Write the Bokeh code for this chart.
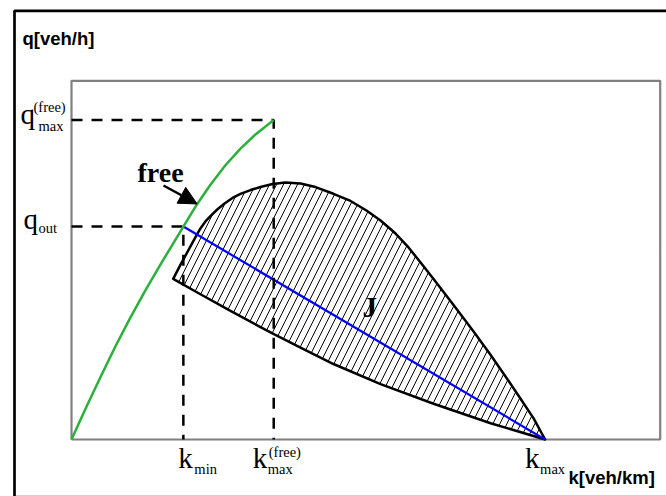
from bokeh.plotting import figure
from bokeh.models import Range1d, Label, Arrow, NormalHead
from bokeh.embed import file_html
from bokeh.resources import INLINE

# ---- fundamental-diagram values (k in veh/km, q in veh/h) ----
K_MIN = 38.0
K_MAX_FREE = 68.7
K_MAX = 160.9
Q_OUT = 1425.0
Q_MAX_FREE = 2138.0

# free-flow branch
FREE_K = [0, 4.8, 9.9, 14.9, 20.0, 25.1, 30.2, 33.6, 38.0, 42.7, 47.2, 52.3, 57.4, 62.5, 68.7]
FREE_Q = [0, 207, 420, 622, 815, 998, 1170, 1281, 1425, 1576, 1705, 1835, 1946, 2041, 2138]

# synchronized-flow region J: upper boundary (left to right) ...
J_UPPER_K = [34.55, 37.0, 39.4, 41.8, 43.8, 45.5, 47.2, 49.5, 52.0, 54.7, 57.4, 60.8,
             64.2, 68.3, 72.7, 77.8, 82.9, 89.0, 94.8, 100.2, 105.0, 110.1, 114.5,
             118.6, 123.0, 129.8, 136.6, 142.4, 147.8, 152.5, 157.0, 160.9]
J_UPPER_Q = [1075, 1168, 1255, 1342, 1412, 1459, 1495, 1539, 1579, 1616, 1643, 1669,
             1689, 1710, 1720, 1713, 1689, 1644, 1596, 1532, 1465, 1378, 1285,
             1184, 1074, 900, 723, 565, 412, 274, 141, 0]
# ... and lower boundary (right to left)
J_LOWER_K = [160.9, 142.4, 123.0, 105.0, 89.0, 77.8, 68.6, 64.2, 54.0, 43.8, 34.55]
J_LOWER_Q = [0, 109, 239, 370, 505, 614, 706, 752, 861, 972, 1075]

# axis box extent
K_AXIS_END = 200.0
Q_AXIS_END = 2400.0

# ---- canvas geometry ----
W, H = 666, 496
X0_PX, Y0_PX = 71.0, 439.0          # pixel position of the origin
PX_PER_K = 588.7 / K_AXIS_END
PX_PER_Q = (Y0_PX - 80.3) / Q_AXIS_END


def kx(px):
    return (px - X0_PX) / PX_PER_K


def qy(py):
    return (Y0_PX - py) / PX_PER_Q


p = figure(width=W, height=H, output_backend="svg", toolbar_location=None,
           x_range=Range1d(kx(0), kx(W)), y_range=Range1d(qy(H), qy(0)),
           x_axis_type=None, y_axis_type=None, min_border=0,
           background_fill_color="white", border_fill_color="white")
p.grid.visible = False
p.outline_line_color = None

SERIF = "Liberation Serif"
SANS = "Liberation Sans"

# outer frame of the figure
p.line([kx(13), kx(W)], [qy(495.5), qy(495.5)], line_color="#a0a0a0", line_width=1)
p.line([kx(14), kx(14), kx(W + 5)], [qy(495.5), qy(10.3), qy(10.3)],
       line_color="black", line_width=2.7)

# axis box
p.line([0, 0, K_AXIS_END, K_AXIS_END, 0], [0, Q_AXIS_END, Q_AXIS_END, 0, 0],
       line_color="#808080", line_width=2.2)

# region J (hatched)
p.patch(J_UPPER_K + J_LOWER_K[1:], J_UPPER_Q + J_LOWER_Q[1:],
        fill_color="white", hatch_pattern="/", hatch_color="black",
        hatch_weight=1, hatch_scale=14,
        line_color="black", line_width=2.5, line_join="round")

# line from (k_min, q_out) to k_max
p.line([K_MIN, K_MAX], [Q_OUT, 0], line_color="#0000ff", line_width=2.2)

# dashed guide lines
p.line([0, K_MAX_FREE, K_MAX_FREE], [Q_MAX_FREE, Q_MAX_FREE, 0],
       line_color="black", line_width=2.5, line_dash="11 9")
p.line([0, K_MIN, K_MIN], [Q_OUT, Q_OUT, 0],
       line_color="black", line_width=2.5, line_dash="11 9")

# free-flow branch
p.line(FREE_K, FREE_Q, line_color="#2bb03c", line_width=2.5, line_join="round")

BASE_SHIFT = 0.35   # label anchor sits this many em above the glyph baseline


def lab(text, x, y, xo, drop, size, font=SERIF, style="normal"):
    """Left-aligned label whose baseline sits `drop` px below the anchor (x, y)."""
    p.add_layout(Label(x=x, y=y, x_offset=xo, y_offset=-drop + BASE_SHIFT * size,
                       text=text, text_font=font, text_font_size=f"{size}px",
                       text_font_style=style, text_color="black",
                       text_baseline="alphabetic", text_align="left"))


MAIN = 29
SUB = 14.5
y_qmax = Y0_PX - Q_MAX_FREE * PX_PER_Q
y_qout = Y0_PX - Q_OUT * PX_PER_Q

# axis titles
lab("q[veh/h]", 0, Q_AXIS_END, 22 - X0_PX, 44 - 80.3, 18.5, SANS, "bold")
lab("k[veh/km]", K_AXIS_END, 0, 568 - 659.7, 483 - Y0_PX, 18.5, SANS, "bold")

# flow labels at the left of the box
lab("q", 0, Q_MAX_FREE, 20 - X0_PX, 124 - y_qmax, MAIN)
lab("max", 0, Q_MAX_FREE, 38 - X0_PX, 131 - y_qmax, SUB)
lab("(free)", 0, Q_MAX_FREE, 33 - X0_PX, 112 - y_qmax, SUB)
lab("q", 0, Q_OUT, 23 - X0_PX, 229 - y_qout, MAIN)
lab("out", 0, Q_OUT, 38 - X0_PX, 233 - y_qout, SUB)

# density labels below the box
lab("k", K_MIN, 0, -5, 468 - Y0_PX, MAIN)
lab("min", K_MIN, 0, 11, 474 - Y0_PX, SUB)
lab("k", K_MAX_FREE, 0, -21, 468 - Y0_PX, MAIN)
lab("max", K_MAX_FREE, 0, -6, 474 - Y0_PX, SUB)
lab("(free)", K_MAX_FREE, 0, -5, 456.5 - Y0_PX, SUB)
lab("k", K_MAX, 0, -20, 468 - Y0_PX, MAIN)
lab("max", K_MAX, 0, -5, 474 - Y0_PX, SUB)

# region names
lab("free", 0, 0, 137 - X0_PX, 182 - Y0_PX, 28, SERIF, "bold")
lab("J", 0, 0, 362 - X0_PX, 317 - Y0_PX, 29, SERIF, "bold")

# arrow pointing at the free branch
p.add_layout(Arrow(x_start=kx(163), y_start=qy(185), x_end=FREE_K[9], y_end=FREE_Q[9],
                   line_color="black", line_width=2.5,
                   end=NormalHead(size=18, fill_color="black", line_color="black")))

open("out.html", "w").write(file_html(p, INLINE))
